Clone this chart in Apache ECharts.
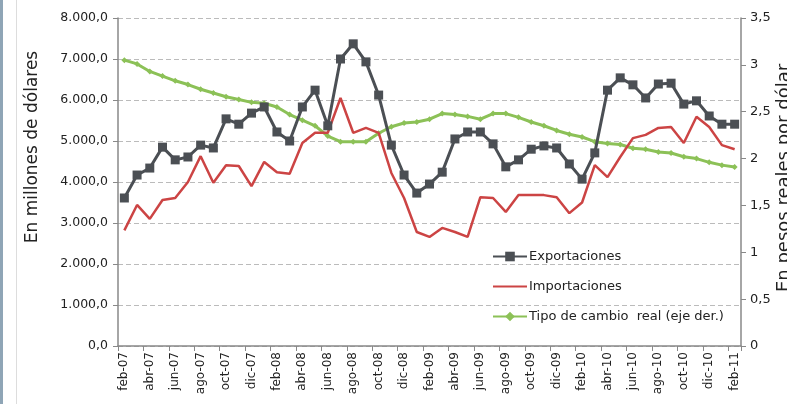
<!DOCTYPE html>
<html>
<head>
<meta charset="utf-8">
<script src="https://cdn.jsdelivr.net/npm/echarts@6/dist/echarts.min.js"></script>
<style>
  html, body { margin: 0; padding: 0; background: #fff; }
  #chart { width: 787px; height: 404px; }
</style>
</head>
<body>
<div id="chart"></div>
<script>
// meses feb-07 .. feb-11
var months = ["feb-07","mar-07","abr-07","may-07","jun-07","jul-07","ago-07","sep-07","oct-07","nov-07","dic-07","ene-08",
  "feb-08","mar-08","abr-08","may-08","jun-08","jul-08","ago-08","sep-08","oct-08","nov-08","dic-08","ene-09",
  "feb-09","mar-09","abr-09","may-09","jun-09","jul-09","ago-09","sep-09","oct-09","nov-09","dic-09","ene-10",
  "feb-10","mar-10","abr-10","may-10","jun-10","jul-10","ago-10","sep-10","oct-10","nov-10","dic-10","ene-11","feb-11"];

var exportaciones = [3610,4170,4340,4850,4540,4610,4900,4830,5540,5410,5680,5830,
  5220,5000,5830,6240,5370,7000,7370,6930,6120,4900,4170,3730,
  3950,4240,5050,5220,5220,4930,4370,4540,4800,4880,4830,4440,
  4070,4710,6240,6540,6370,6050,6390,6410,5900,5980,5610,5410,5410];

var importaciones = [2820,3440,3100,3560,3610,4000,4630,3980,4410,4390,3900,4490,
  4240,4200,4950,5200,5200,6050,5200,5320,5200,4220,3610,2780,
  2660,2880,2780,2660,3630,3610,3270,3680,3680,3680,3630,3240,
  3500,4410,4120,4610,5070,5150,5320,5340,4950,5590,5340,4900,4800];

var tipoCambio = [3.05,3.01,2.93,2.88,2.83,2.79,2.74,2.70,2.66,2.63,2.60,2.59,
  2.55,2.47,2.41,2.35,2.24,2.18,2.18,2.18,2.27,2.34,2.38,2.39,
  2.42,2.48,2.47,2.45,2.42,2.48,2.48,2.44,2.39,2.35,2.30,2.26,
  2.23,2.18,2.16,2.15,2.11,2.10,2.07,2.06,2.02,2.00,1.96,1.93,1.91];

var font = "DejaVu Sans";

function fmtMiles(v) {
  // 8000 -> "8.000,0"
  var s = Math.round(v).toString().replace(/\B(?=(\d{3})+(?!\d))/g, ".");
  return s + ",0";
}

var chart = echarts.init(document.getElementById("chart"));
chart.setOption({
  backgroundColor: "#fff",
  animation: false,
  grid: { left: 118, right: 46, top: 18, bottom: 58 },
  legend: {
    orient: "vertical",
    left: 487,
    top: 245,
    itemGap: 17,
    itemWidth: 34,
    itemHeight: 12,
    textStyle: { fontFamily: font, fontSize: 13, color: "#222", padding: [0, 0, 0, -3] },
    data: [
      "Exportaciones",
      { name: "Importaciones", itemStyle: { opacity: 0 } },
      "Tipo de cambio  real (eje der.)"
    ]
  },
  xAxis: {
    type: "category",
    data: months,
    boundaryGap: true,
    axisLine: { lineStyle: { color: "#888", width: 1.5 } },
    axisTick: { show: true, interval: 1, length: 5, lineStyle: { color: "#888" } },
    axisLabel: {
      interval: 1,
      rotate: 90,
      margin: 6,
      fontFamily: font,
      fontSize: 12,
      color: "#222"
    }
  },
  yAxis: [
    {
      type: "value",
      min: 0,
      max: 8000,
      interval: 1000,
      axisLine: { show: true, lineStyle: { color: "#888", width: 1.5 } },
      axisTick: { show: true, length: 5, lineStyle: { color: "#888" } },
      axisLabel: {
        formatter: fmtMiles,
        margin: 10,
        fontFamily: font,
        fontSize: 12.5,
        color: "#222"
      },
      splitLine: { show: true, lineStyle: { color: "#bbb", type: [5, 3] } }
    },
    {
      type: "value",
      min: 0,
      max: 3.5,
      interval: 0.5,
      position: "right",
      axisLine: { show: true, lineStyle: { color: "#888", width: 1.5 } },
      axisTick: { show: true, length: 5, lineStyle: { color: "#888" } },
      axisLabel: {
        formatter: function (v) { return String(v).replace(".", ","); },
        margin: 9,
        fontFamily: font,
        fontSize: 13,
        color: "#222"
      },
      splitLine: { show: false }
    }
  ],
  graphic: [
    { type: "rect", left: 0, top: 0, shape: { width: 3, height: 404 }, style: { fill: "#8fa5b6" } },
    { type: "rect", left: 16, top: 0, shape: { width: 1, height: 404 }, style: { fill: "#ddd" } },
    {
      type: "text",
      x: 33, y: 147,
      rotation: Math.PI / 2,
      style: { text: "En millones de dólares", font: "17px " + font, fill: "#222", align: "center", verticalAlign: "middle" }
    },
    {
      type: "text",
      x: 784, y: 178,
      rotation: Math.PI / 2,
      style: { text: "En pesos reales por dólar", font: "18px " + font, fill: "#222", align: "center", verticalAlign: "middle" }
    }
  ],
  series: [
    {
      name: "Exportaciones",
      type: "line",
      data: exportaciones,
      symbol: "rect",
      symbolSize: 9,
      showAllSymbol: true,
      lineStyle: { color: "#4b4f54", width: 3 },
      itemStyle: { color: "#4b4f54" },
      z: 4
    },
    {
      name: "Importaciones",
      type: "line",
      data: importaciones,
      symbol: "none",
      lineStyle: { color: "#cc4444", width: 2.5 },
      itemStyle: { color: "#cc4444" },
      z: 3
    },
    {
      name: "Tipo de cambio  real (eje der.)",
      type: "line",
      yAxisIndex: 1,
      data: tipoCambio,
      symbol: "diamond",
      symbolSize: 6,
      showAllSymbol: true,
      lineStyle: { color: "#8cc157", width: 3 },
      itemStyle: { color: "#8cc157" },
      z: 2
    }
  ]
});
</script>
</body>
</html>
